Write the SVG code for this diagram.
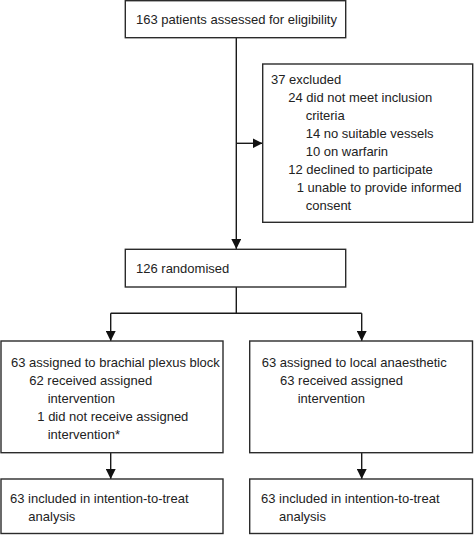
<svg xmlns="http://www.w3.org/2000/svg" width="474" height="536" viewBox="0 0 474 536">
<style>
.box{fill:#fff;stroke:#2b2b2b;stroke-width:1.4}
.ln{fill:none;stroke:#1a1a1a;stroke-width:1.4}
text{font-family:"Liberation Sans",Arial,sans-serif;font-size:13px;fill:#222}
</style>
<defs>
<marker id="ah" viewBox="0 0 10 10" refX="10" refY="5" markerWidth="10" markerHeight="10" markerUnits="userSpaceOnUse" orient="auto">
<path d="M0,0 L10,5 L0,10 z" fill="#111"/>
</marker>
</defs>
<rect width="474" height="536" fill="#fff"/>
<g id="connectors">
<line class="ln" x1="236.3" y1="37.7" x2="236.3" y2="249" marker-end="url(#ah)"/>
<line class="ln" x1="236.3" y1="143.3" x2="262.5" y2="143.3" marker-end="url(#ah)"/>
<line class="ln" x1="236.3" y1="287" x2="236.3" y2="313.3"/>
<line class="ln" x1="110.7" y1="313.3" x2="361.7" y2="313.3"/>
<line class="ln" x1="110.7" y1="313.3" x2="110.7" y2="341" marker-end="url(#ah)"/>
<line class="ln" x1="361.7" y1="313.3" x2="361.7" y2="341" marker-end="url(#ah)"/>
<line class="ln" x1="110.7" y1="452.7" x2="110.7" y2="479" marker-end="url(#ah)"/>
<line class="ln" x1="361.7" y1="452.7" x2="361.7" y2="479" marker-end="url(#ah)"/>
</g>
<g id="assessed">
<rect class="box" x="125.3" y="0.7" width="220.4" height="37"/>
<text x="136" y="24">163 patients assessed for eligibility</text>
</g>
<g id="excluded">
<rect class="box" x="262.7" y="64" width="210" height="158.3"/>
<text x="271" y="83.5">37 excluded</text>
<text x="288.3" y="101.5">24 did not meet inclusion</text>
<text x="305.7" y="119.5">criteria</text>
<text x="305.7" y="137.5">14 no suitable vessels</text>
<text x="305.7" y="155.5">10 on warfarin</text>
<text x="288.3" y="173.5">12 declined to participate</text>
<text x="296.7" y="191.5">1 unable to provide informed</text>
<text x="305.7" y="209.5">consent</text>
</g>
<g id="randomised">
<rect class="box" x="125.3" y="249.3" width="220.4" height="37.7"/>
<text x="136" y="273.3">126 randomised</text>
</g>
<g id="brachial">
<rect class="box" x="1" y="341" width="222" height="111.7"/>
<text x="11" y="366.7">63 assigned to brachial plexus block</text>
<text x="29.3" y="384.7">62 received assigned</text>
<text x="47.7" y="402.7">intervention</text>
<text x="37.3" y="420.7">1 did not receive assigned</text>
<text x="47.7" y="438.7">intervention*</text>
</g>
<g id="local">
<rect class="box" x="249.7" y="341" width="222.8" height="111.7"/>
<text x="261.7" y="366.7">63 assigned to local anaesthetic</text>
<text x="280" y="384.7">63 received assigned</text>
<text x="297.7" y="402.7">intervention</text>
</g>
<g id="itt-left">
<rect class="box" x="1" y="479" width="222" height="54.5"/>
<text x="10" y="503.3">63 included in intention-to-treat</text>
<text x="28.3" y="521.3">analysis</text>
</g>
<g id="itt-right">
<rect class="box" x="249.7" y="479" width="222.8" height="54.5"/>
<text x="261" y="503.3">63 included in intention-to-treat</text>
<text x="279" y="521.3">analysis</text>
</g>
</svg>
